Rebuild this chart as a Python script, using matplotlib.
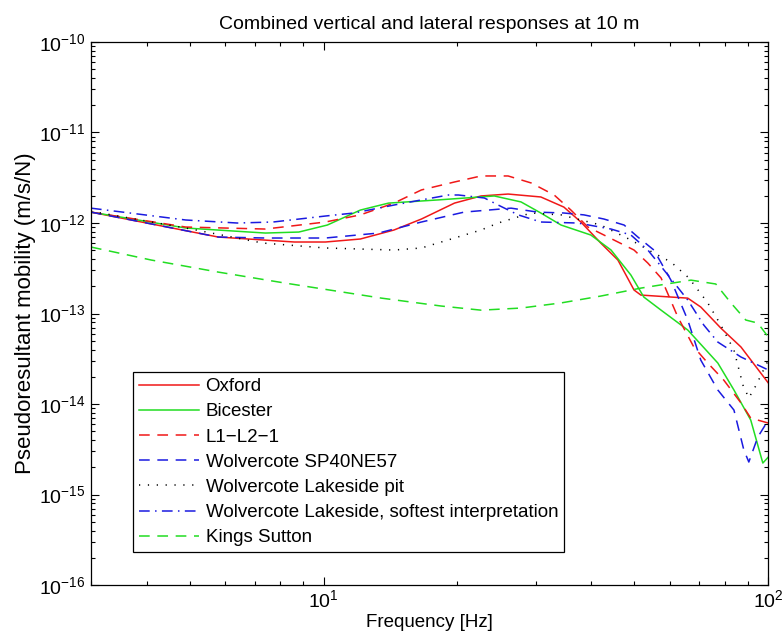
import numpy as np
import matplotlib
matplotlib.use("Agg")
import matplotlib.pyplot as plt
from matplotlib.ticker import FixedLocator, NullFormatter

plt.rcParams['font.family'] = ['Liberation Sans', 'DejaVu Sans']
plt.rcParams['mathtext.fontset'] = 'custom'
plt.rcParams['mathtext.rm'] = 'Liberation Sans'

# --- data: frequency [Hz], mobility [1e-12 m/s/N] ---
oxford_f = [3, 5.8, 8.6, 10.1, 12.1, 14.4, 16.6, 19.7, 22.6, 26.0, 30.8, 34.7,
            37.9, 42.0, 45.9, 49.9, 51.7, 65.9, 70.5, 78.2, 86.8, 100]
oxford_v = [1.32, 0.70, 0.617, 0.617, 0.666, 0.837, 1.107, 1.66, 1.99, 2.09, 1.94, 1.50,
            1.026, 0.601, 0.39, 0.182, 0.160, 0.148, 0.118, 0.0691, 0.0427, 0.0171]

bicester_f = [3, 4.9, 7.4, 8.8, 10.2, 12.1, 14.0, 18.1, 24.2, 27.8, 30.8, 34.2,
              39.9, 44.3, 49.1, 52.5, 57.4, 65.9, 77.0, 83.7, 91.3, 97.2, 100]
bicester_v = [1.32, 0.881, 0.775, 0.795, 0.95, 1.39, 1.66, 1.80, 1.99, 1.71, 1.29, 0.95,
              0.737, 0.503, 0.266, 0.152, 0.109, 0.0658, 0.0284, 0.0143, 0.00666, 0.00223, 0.0026]

l1l2_f = [3, 4.9, 7.4, 10.1, 12.1, 14.4, 16.6, 19.7, 22.6, 26.0, 29.3, 33.0, 36.0,
          39.3, 42.7, 49.9, 53.6, 57.4, 62.6, 68.0, 73.1, 79.4, 86.8, 91.3, 100]
l1l2_v = [1.32, 0.903, 0.858, 1.026, 1.23, 1.66, 2.32, 2.84, 3.31, 3.31, 2.77, 2.04, 1.39,
          0.903, 0.737, 0.503, 0.361, 0.247, 0.0915, 0.0427, 0.0284, 0.0184, 0.0103, 0.0070, 0.00617]

wsp_f = [3, 5.8, 7.4, 10.1, 13.3, 16.6, 20.7, 26.4, 30.3, 34.7, 38.5, 42.7,
         47.4, 50.9, 55.3, 60.4, 65.9, 70.5, 77.0, 83.7, 88.1, 90.4, 94.7, 100]
wsp_v = [1.32, 0.70, 0.683, 0.683, 0.775, 1.026, 1.32, 1.46, 1.32, 1.29, 1.23, 1.107,
         0.95, 0.70, 0.503, 0.234, 0.0848, 0.0306, 0.0143, 0.00859, 0.00311, 0.00229, 0.00432, 0.00666]

pit_f = [3, 4.9, 7.3, 10.1, 14.4, 16.6, 19.7, 22.6, 24.7, 26.4, 29.3, 34.2,
         42.0, 49.1, 55.3, 60.4, 66.3, 73.1, 78.2, 83.7, 87.7, 90.4, 93.9, 100]
pit_v = [1.35, 0.881, 0.601, 0.530, 0.503, 0.530, 0.683, 0.837, 1.00, 1.107, 1.29, 1.23,
         0.95, 0.649, 0.466, 0.371, 0.247, 0.131, 0.0746, 0.0395, 0.0162, 0.0117, 0.0162, 0.0306]

soft_f = [3, 4.9, 6.4, 7.7, 10.1, 11.7, 14.4, 16.6, 19.1, 20.1, 23.0, 24.7,
          27.4, 30.8, 37.3, 44.3, 49.1, 53.6, 59.5, 65.9, 71.6, 77.0, 86.8, 100]
soft_v = [1.46, 1.08, 1.00, 1.026, 1.195, 1.29, 1.58, 1.80, 2.04, 2.04, 1.89, 1.58,
          1.23, 1.026, 1.00, 0.858, 0.737, 0.503, 0.266, 0.141, 0.0746, 0.0484, 0.0331, 0.0238]

kings_f = [3, 4.1, 5.8, 8.2, 13.5, 18.4, 22.6, 27.8, 34.2, 42.0, 51.7, 67.0,
           76.2, 82.4, 89.0, 94.7, 100]
kings_v = [0.543, 0.390, 0.287, 0.217, 0.148, 0.121, 0.109, 0.115, 0.131, 0.156, 0.191, 0.234,
           0.212, 0.131, 0.0848, 0.0785, 0.0550]

scale = 1e-12

red = '#f01818'
green = '#22dd22'
blue = '#1a1ae0'

fig = plt.figure(figsize=(7.84, 6.36), dpi=100)
ax = fig.add_axes([0.116, 0.080, 0.864, 0.854])

lw = 1.1
ax.plot(oxford_f, np.array(oxford_v) * scale, color=red, lw=lw, label='Oxford')
ax.plot(bicester_f, np.array(bicester_v) * scale, color=green, lw=lw, label='Bicester')
ax.plot(l1l2_f, np.array(l1l2_v) * scale, color=red, lw=lw, dashes=(7, 5), label='L1\u2212L2\u22121')
ax.plot(wsp_f, np.array(wsp_v) * scale, color=blue, lw=lw, dashes=(7, 5), label='Wolvercote SP40NE57')
ax.plot(pit_f, np.array(pit_v) * scale, color='black', lw=lw, dashes=(0.8, 5), label='Wolvercote Lakeside pit')
ax.plot(soft_f, np.array(soft_v) * scale, color=blue, lw=lw, dashes=(7, 3.5, 1, 3.5),
        label='Wolvercote Lakeside, softest interpretation')
ax.plot(kings_f, np.array(kings_v) * scale, color=green, lw=lw, dashes=(7, 5), label='Kings Sutton')

ax.set_xscale('log')
ax.set_yscale('log')
ax.set_xlim(3, 100)
ax.set_ylim(1e-16, 1e-10)

# ticks only inside the visible range
ydec = [10.0 ** e for e in range(-16, -9)]
ax.set_yticks(ydec)
ax.yaxis.set_minor_locator(FixedLocator([m * d for d in ydec[:-1] for m in range(2, 10)]))
ax.set_xticks([10, 100])
ax.xaxis.set_minor_locator(FixedLocator([3, 4, 5, 6, 7, 8, 9, 20, 30, 40, 50, 60, 70, 80, 90]))
ax.yaxis.set_minor_formatter(NullFormatter())
ax.xaxis.set_minor_formatter(NullFormatter())

ax.tick_params(which='both', direction='in', top=True, right=True, labelsize=14)
ax.tick_params(which='major', length=6, width=0.8)
ax.tick_params(which='minor', length=3, width=0.8)
ax.tick_params(axis='x', pad=3)
ax.tick_params(axis='y', pad=4)
for s in ax.spines.values():
    s.set_linewidth(0.9)

ax.set_title('Combined vertical and lateral responses at 10 m', fontsize=14, pad=9)
ax.set_xlabel('Frequency [Hz]', fontsize=13.5, labelpad=2)
ax.set_ylabel('Pseudoresultant mobility (m/s/N)', fontsize=16, labelpad=2)

leg = ax.legend(loc='lower left', bbox_to_anchor=(0.062, 0.061), borderaxespad=0,
                fontsize=13.5, fancybox=False, edgecolor='black', framealpha=1,
                handlelength=3.2, handletextpad=0.37, labelspacing=0.43, borderpad=0.3)
leg.get_frame().set_linewidth(0.9)

fig.savefig('out.png', dpi=100)
